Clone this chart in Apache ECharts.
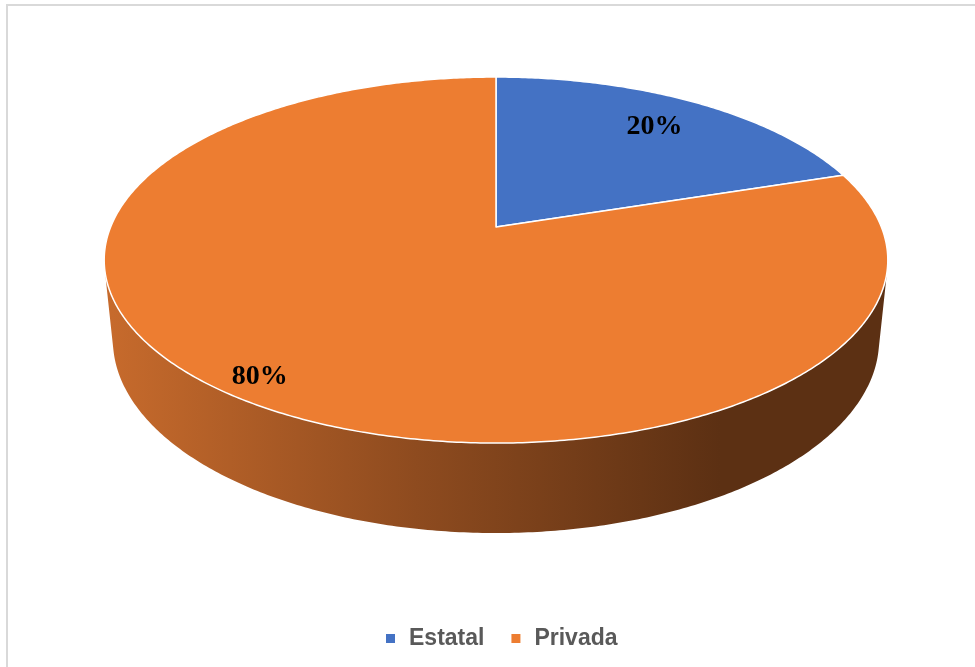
<!DOCTYPE html>
<html>
<head>
<meta charset="utf-8">
<script src="https://cdn.jsdelivr.net/npm/echarts@6/dist/echarts.min.js"></script>
<style>
html,body{margin:0;padding:0;background:#fff;}
#chart{width:975px;height:667px;}
</style>
</head>
<body>
<div id="chart"></div>
<script>
const categories = ['Estatal', 'Privada'];
const values = [20, 80];
const colors = ['#4472C4', '#ED7D31'];

// 3D projection settings (style)
const CAM = { cx: 496, cy: 227, f: 1896, D: 4.92, tilt: 27.35 * Math.PI / 180, h: 0.235 };
const labelR = [0.78, 0.905];
const sinT = Math.sin(CAM.tilt), cosT = Math.cos(CAM.tilt);

function project(a, r, y) {
  const X = r * Math.sin(a), Z = r * Math.cos(a);
  const up = y * cosT + Z * sinT;
  const w = CAM.D + Z * cosT - y * sinT;
  return [CAM.cx + CAM.f * X / w, CAM.cy - CAM.f * up / w];
}

const total = values.reduce((s, v) => s + v, 0);
const aVis = Math.acos(-1 / (CAM.D * cosT));

function arc(a0, a1, y, n) {
  const pts = [];
  for (let k = 0; k <= n; k++) {
    pts.push(project(a0 + (a1 - a0) * k / n, 1, y));
  }
  return pts;
}

function makeRender(idx) {
  return function (params, api) {
    const a0 = api.value(0) * 2 * Math.PI;
    const a1 = api.value(1) * 2 * Math.PI;
    const pct = Math.round(api.value(2) / total * 100) + '%';
    const children = [];
    // side wall (front-facing part only)
    const lo = Math.max(a0, aVis), hi = Math.min(a1, 2 * Math.PI - aVis);
    if (hi > lo) {
      const n = Math.max(8, Math.ceil((hi - lo) / 0.01));
      const top = arc(lo, hi, 0, n);
      const bot = arc(lo, hi, -CAM.h, n).reverse();
      children.push({
        type: 'polygon',
        shape: { points: top.concat(bot) },
        style: {
          fill: new echarts.graphic.LinearGradient(112, 0, 720, 0, [
            { offset: 0, color: '#c66a2c' },
            { offset: 0.5, color: '#8e4b1f' },
            { offset: 1, color: '#5c3013' }
          ], true),
          stroke: null
        }
      });
    }
    // top face
    const n2 = Math.max(8, Math.ceil((a1 - a0) / 0.01));
    const topPts = [[CAM.cx, CAM.cy]].concat(arc(a0, a1, 0, n2));
    children.push({
      type: 'polygon',
      shape: { points: topPts },
      style: { fill: api.visual('color'), stroke: '#ffffff', lineWidth: 1.5, lineJoin: 'round' }
    });
    // label
    const am = (a0 + a1) / 2;
    const lp = project(am, labelR[idx], 0);
    children.push({
      type: 'text',
      x: lp[0], y: lp[1],
      style: {
        text: pct,
        fill: '#000000',
        font: 'bold 28px "Liberation Serif", "Times New Roman", serif',
        align: 'center', verticalAlign: 'middle',
        textAlign: 'center', textVerticalAlign: 'middle'
      }
    });
    return { type: 'group', children: children };
  };
}

let cum = 0;
const series = categories.map((name, i) => {
  const s = cum / total;
  cum += values[i];
  const e = cum / total;
  return {
    type: 'custom',
    name: name,
    coordinateSystem: 'none',
    silent: true,
    data: [[s, e, values[i]]],
    itemStyle: { color: colors[i] },
    renderItem: makeRender(i)
  };
});

const chart = echarts.init(document.getElementById('chart'), null, { renderer: 'canvas' });
chart.setOption({
  animation: false,
  backgroundColor: '#ffffff',
  graphic: [{
    type: 'rect',
    shape: { x: 7, y: 5, width: 1000, height: 700 },
    style: { fill: null, stroke: '#d9d9d9', lineWidth: 2 },
    z: -10
  }],
  legend: {
    data: categories,
    left: 381,
    top: 622,
    icon: 'rect',
    itemWidth: 9,
    itemHeight: 9,
    itemGap: 27,
    selectedMode: false,
    textStyle: {
      fontSize: 23,
      fontWeight: 'bold',
      color: '#595959',
      fontFamily: '"Liberation Sans", Arial, sans-serif',
      padding: [0, 0, 0, 9]
    }
  },
  series: series
});
</script>
</body>
</html>
